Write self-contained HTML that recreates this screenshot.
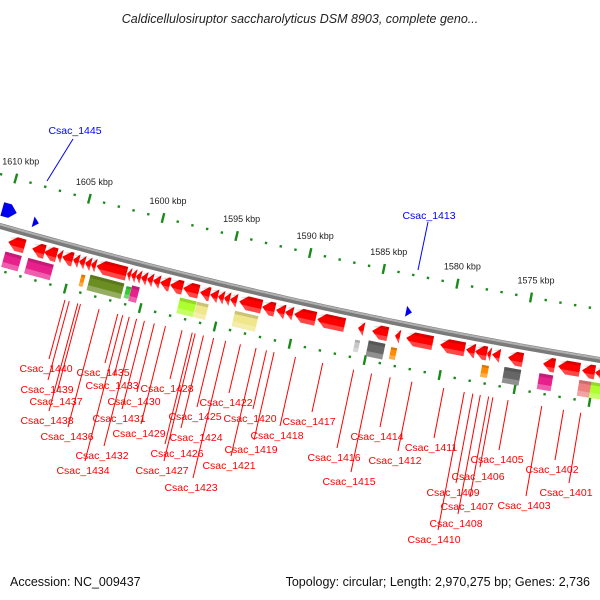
<!DOCTYPE html>
<html><head><meta charset="utf-8">
<style>
html,body{margin:0;padding:0;background:#fff;}
svg{display:block;font-family:"Liberation Sans",sans-serif;}
</style></head>
<body>
<svg id="c" width="600" height="600" viewBox="0 0 600 600">
<text x="300" y="23" text-anchor="middle" font-size="12.5" font-style="italic" fill="#222">Caldicellulosiruptor saccharolyticus DSM 8903, complete geno...</text>
<g id="rings"></g>
<g id="bb"></g>
<g id="genes"></g>
<g id="labels"></g>
<text x="10" y="586" font-size="12.5" fill="#111">Accession: NC_009437</text>
<text x="590" y="586" text-anchor="end" font-size="12.5" fill="#111">Topology: circular; Length: 2,970,275 bp; Genes: 2,736</text>
</svg>
<script>
// ---- data ----
const tickKbp = [1610,1605,1600,1595,1590,1585,1580,1575];
const minorKbp = [];
for (let k = 1612; k >= 1568; k--) minorKbp.push(k);
const redStarts = [8,32,44,57,62,73,79,85,91,96,127,131,136,141,147,153,160,170,183,200,210,218,224,230,239,262,276,285,294,317,358,372,395,406,440,466,475,487,492,508,543,558,582,595];
const redEnds   = [25,45,57,62,73,79,85,91,96,127,131,136,141,147,153,160,170,183,199,210,218,224,230,237,262,275,285,293,316,345,364,388,400,433,465,475,487,491,500,523,555,580,595,604];
const boxStarts = [3,26,38,80,88,125,130,178,195,233,354,367,390,481,503,538,578,590];
const boxEnds   = [20,39,52,84,123,130,138,195,207,257,359,384,396,488,520,552,592,604];
const boxColors = ['#e8208c','#e8208c','#e8208c','#ff8c00','#6b8e23','#32cd32','#e8208c','#adff2f','#f0e68c','#f0e68c','#c8c8c8','#666666','#ff8c00','#ff8c00','#666666','#e8208c','#f08080','#adff2f'];
const labelNames = ['Csac_1440','Csac_1439','Csac_1437','Csac_1438','Csac_1436','Csac_1434','Csac_1435','Csac_1433','Csac_1430','Csac_1431','Csac_1432','Csac_1429','Csac_1428','Csac_1425','Csac_1424','Csac_1426','Csac_1427','Csac_1423','Csac_1422','Csac_1420','Csac_1418','Csac_1419','Csac_1421','Csac_1417','Csac_1416','Csac_1415','Csac_1414','Csac_1412','Csac_1411','Csac_1410','Csac_1408','Csac_1407','Csac_1409','Csac_1406','Csac_1405','Csac_1403','Csac_1402','Csac_1401'];
const labelX = [46,47,56,47,67,83,103,112,134,119,102,139,167,195,196,177,162,191,226,250,277,251,229,309,334,349,377,395,431,434,456,467,453,478,497,524,552,566];
const labelY = [368,389,401,420,436,470,372,385,401,418,455,433,388,416,437,453,470,487,402,418,435,449,465,421,457,481,436,460,447,539,523,506,492,476,459,505,469,492];
const lineX  = [49,48,57,49,68,85,105,114,137,122,104,141,170,197,181,165,164,193,229,253,280,254,231,312,337,351,380,398,434,438,458,470,456,480,499,526,555,569];

const NS='http://www.w3.org/2000/svg';
function el(tag, attrs, parent){const e=document.createElementNS(NS,tag);for(const k in attrs)e.setAttribute(k,attrs[k]);parent.appendChild(e);return e;}
function by(x){return 226+0.2833*x-0.0001*x*x;}
function sl(x){return 0.2833-0.0002*x;}
function npt(b,off){const s=sl(b),n=Math.sqrt(1+s*s);return [b-s*off/n, by(b)+off/n];}
function baseOf(x,off){let b=x;for(let i=0;i<6;i++){const p=npt(b,off);b+=x-p[0];}return b;}
function xOfKbp(k){return 163+(1600-k)*14.72;}

const rings=document.getElementById('rings');
[-50,43].forEach(off=>{
  minorKbp.forEach(k=>{
    const b=baseOf(xOfKbp(k),-50);
    const p=npt(b,off);
    const major=(k%5===0);
    const ang=Math.atan(sl(b))*180/Math.PI;
    const d=el('rect',{x:p[0]-1.2,y:p[1]-(major?5:1.2),width:2.4,height:major?10:2.4,fill:'#1a8a1a',transform:'rotate('+ang+' '+p[0]+' '+p[1]+')'},rings);
    
    
  });
});
tickKbp.forEach(k=>{
  const b=baseOf(xOfKbp(k),-50);
  const p=npt(b,-50);
  const t=el('text',{x:p[0]+5,y:p[1]-14,'text-anchor':'middle','font-size':'9',fill:'#222'},rings);
  t.textContent=k+' kbp';
  
  
});

const bb=document.getElementById('bb');
let d='';for(let x=-10;x<=610;x+=5){d+=(x===-10?'M':'L')+x+' '+by(x).toFixed(2)+' ';}
el('path',{d:d,stroke:'#7a7a7a','stroke-width':'6',fill:'none'},bb);
el('path',{d:d,stroke:'#b0b0b0','stroke-width':'2',fill:'none',transform:'translate(0,-1.5)'},bb);

const g=document.getElementById('genes');
function gene(x0,x1,off,h,color,arrow,name){
  const bm=baseOf((x0+x1)/2,off);
  const p=npt(bm,off);
  const ang=Math.atan(sl(bm))*180/Math.PI;
  const L=x1-x0, u0=-L/2, u1=L/2, hh=h/2;
  let pts;
  if(arrow){const hl=Math.min(8,L);pts=[[u0,0],[u0+hl,-hh],[u1,-hh],[u1,hh],[u0+hl,hh]];}
  else pts=[[u0,-hh],[u1,-hh],[u1,hh],[u0,hh]];
  const grp=el('g',{transform:'translate('+p[0].toFixed(2)+','+p[1].toFixed(2)+') rotate('+ang.toFixed(2)+')'},g);
  
  
  el('polygon',{points:pts.map(q=>q.join(',')).join(' '),fill:color},grp);
  const lo=pts.map(q=>[q[0],Math.max(q[1],hh*0.35)]);
  el('polygon',{points:lo.map(q=>q.join(',')).join(' '),fill:'rgba(255,255,255,0.28)'},grp);
  const hi=pts.map(q=>[q[0],Math.min(q[1],-hh*0.6)]);
  el('polygon',{points:hi.map(q=>q.join(',')).join(' '),fill:'rgba(0,0,0,0.15)'},grp);
}
for(let i=0;i<redStarts.length;i++) gene(redStarts[i],redEnds[i],13,14,'#ff0000',true,'cds-gene');
for(let i=0;i<boxStarts.length;i++){const L=boxEnds[i]-boxStarts[i];gene(boxStarts[i],boxEnds[i],31,L<8?12:16,boxColors[i],false,'feature-box');}
(function(){
  const blue=[[2,17,-17,14],[33,39,-13,11],[406,412,-13,11]];
  blue.forEach(b=>{
    const bm=baseOf((b[0]+b[1])/2,b[2]);const p=npt(bm,b[2]);const ang=Math.atan(sl(bm))*180/Math.PI;
    const L=b[1]-b[0],hh=b[3]/2,hl=Math.min(7,L);
    const pts=[[-L/2,-hh],[L/2-hl,-hh],[L/2,0],[L/2-hl,hh],[-L/2,hh]];
    const pl=el('polygon',{points:pts.map(q=>q.join(',')).join(' '),fill:'#0000ee',transform:'translate('+p[0]+','+p[1]+') rotate('+ang+')'},g);
    
    
  });
})();

const lg=document.getElementById('labels');
for(let i=0;i<labelNames.length;i++){
  const xb=lineX[i], yb=labelY[i]-9;
  let xt=xb, yt;
  for(let k=0;k<8;k++){yt=by(xt)+56;xt=xb+sl(xt)*(yb-yt);}
  const ln=el('line',{x1:xt,y1:yt,x2:xb,y2:yb,stroke:'#ff0000','stroke-width':'1'},lg);
  
  
  const t=el('text',{x:labelX[i],y:labelY[i]+4,'text-anchor':'middle','font-size':'10.5',fill:'#ff0000'},lg);
  t.textContent=labelNames[i];
  
  
}
[['Csac_1445',75,134,73,139,47,181],['Csac_1413',429,219,428,222,418,270]].forEach(b=>{
  const ln=el('line',{x1:b[3],y1:b[4],x2:b[5],y2:b[6],stroke:'#0000ff','stroke-width':'1'},lg);
  
  
  const t=el('text',{x:b[1],y:b[2],'text-anchor':'middle','font-size':'10.5',fill:'#0000ff'},lg);
  t.textContent=b[0];
  
  
});
</script>
</body></html>
